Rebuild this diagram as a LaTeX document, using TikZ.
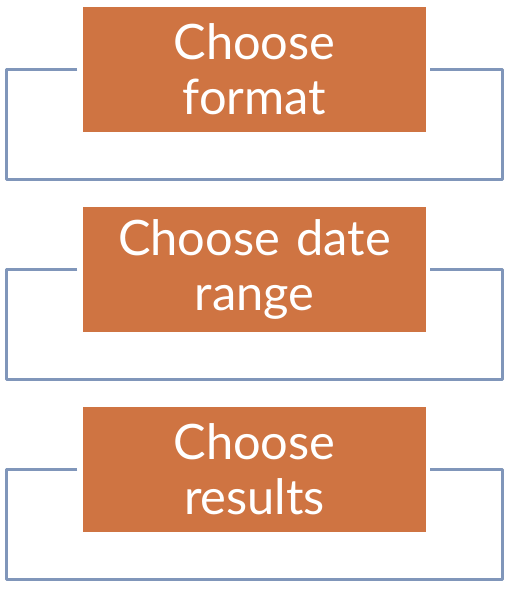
\documentclass[tikz,border=0pt]{standalone}
\usepackage{fontspec}
\setmainfont{Lato}
\definecolor{stepfill}{RGB}{207,116,66}
\definecolor{loopline}{RGB}{128,150,186}

\tikzset{
    choosebox/.style={fill=stepfill, draw=none, text=white, align=center,
        minimum width=171.5pt, minimum height=62.5pt, text width=165pt,
        font=\fontsize{24.4}{27.5}\selectfont},
    loop/.style={draw=loopline, line width=1.8pt, line join=round}
}

\begin{document}
\begin{tikzpicture}[x=0.5pt, y=-0.5pt]
        \useasboundingbox (0, 0) rectangle (513, 592);

        \newcommand{\choosestep}[3]{
            \node[choosebox] (#1) at (254.5, #2) {#3};
            \draw[loop] (#1.north west) ++(-5, 63) -- ++(-71, 0) -- ++(0, 110)
                -- ++(496, 0) -- ++(0, -110) -- ++(-72, 0);
        }

        \choosestep{format}{69.5}{Choose\\format}
        \choosestep{daterange}{269.5}{Choose date\\range}
        \choosestep{results}{469.5}{Choose\\results}
    \end{tikzpicture}
\end{document}
